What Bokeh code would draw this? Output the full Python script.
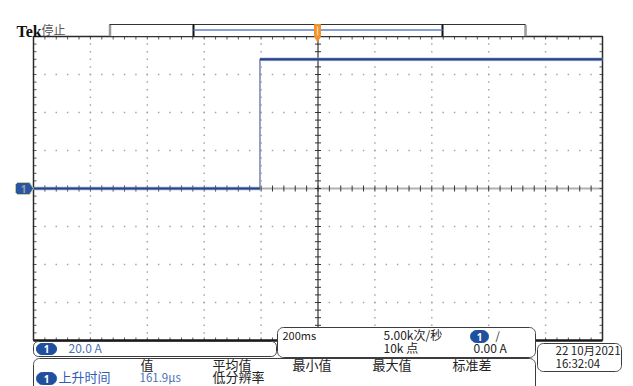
import numpy as np
from bokeh.plotting import figure
from bokeh.models import Range1d
from bokeh.core.properties import value
from bokeh.embed import file_html
from bokeh.resources import INLINE

W, H = 633, 386

# Acquisition settings (horizontal: ms, vertical: A)
time_per_div_ms = 200
amps_per_div = 20
n_div_x = 10
n_div_y = 8
minor_per_div = 5

# Channel 1 current trace: step from 0 A to 68 A
trace_time_ms = [-1000, -204, -204, 1000]
trace_current_a = [0.0, 0.0, 68.0, 68.0]

# Readouts
status_label = "停止"
ch_scale_label = "20.0 A"
timebase_label = "200ms"
sample_rate_label = "5.00k次/秒"
record_length_label = "10k 点"
trigger_level_label = "0.00 A"
meas_headers = ["值", "平均值", "最小值", "最大值", "标准差"]
meas_name = "上升时间"
meas_value = "161.9µs"
meas_note = "低分辨率"
date_label = "22 10月2021"
clock_label = "16:32:04"

# Screen geometry of the graticule
GX0, GX1, GY0, GY1 = 33.0, 602.0, 36.0, 340.0
CX, CY = (GX0 + GX1) / 2, (GY0 + GY1) / 2
PX_DIV_X = (GX1 - GX0) / n_div_x
PX_DIV_Y = (GY1 - GY0) / n_div_y


def tx(px):
    return (np.asarray(px, dtype=float) - CX) / PX_DIV_X * time_per_div_ms


def ay(py):
    return (CY - np.asarray(py, dtype=float)) / PX_DIV_Y * amps_per_div


def dx(npx):
    return npx / PX_DIV_X * time_per_div_ms


def dy(npx):
    return npx / PX_DIV_Y * amps_per_div


def rrect(x0, y0, x1, y1, r, n=10):
    """Rounded rectangle outline in screen pixels."""
    xs, ys = [], []
    corners = [(x1 - r, y0 + r, -90, 0), (x1 - r, y1 - r, 0, 90),
               (x0 + r, y1 - r, 90, 180), (x0 + r, y0 + r, 180, 270)]
    for cx, cy, a0, a1 in corners:
        a = np.radians(np.linspace(a0, a1, n))
        xs.extend(cx + r * np.cos(a))
        ys.extend(cy + r * np.sin(a))
    return tx(xs), ay(ys)


p = figure(width=W, height=H, x_range=Range1d(float(tx(0)), float(tx(W))),
           y_range=Range1d(float(ay(H)), float(ay(0))),
           x_axis_type=None, y_axis_type=None, min_border=0,
           toolbar_location=None, output_backend="svg",
           outline_line_color=None, background_fill_color="white",
           border_fill_color="white")

half_t = n_div_x / 2 * time_per_div_ms
half_a = n_div_y / 2 * amps_per_div
minor_t = time_per_div_ms / minor_per_div
minor_a = amps_per_div / minor_per_div
major_t = np.arange(-half_t, half_t + 1, time_per_div_ms)
major_a = np.arange(-half_a, half_a + 1, amps_per_div)
minor_ts = np.arange(-half_t, half_t + 1e-6, minor_t)
minor_as = np.arange(-half_a, half_a + 1e-6, minor_a)

# Dotted graticule lines
gx, gy = [], []
for t in major_t[1:-1]:
    if t == 0:
        continue
    gx.extend([t] * len(minor_as))
    gy.extend(minor_as)
for a in major_a[1:-1]:
    if a == 0:
        continue
    gx.extend(minor_ts)
    gy.extend([a] * len(minor_ts))
p.scatter(gx, gy, marker="square", size=1.5, fill_color="#a6a6a6",
          line_color=None)

# Center cross
p.segment(x0=[-half_t], y0=[0], x1=[half_t], y1=[0], line_color="#b0b0b0",
          line_width=2)
p.segment(x0=[0], y0=[-half_a], x1=[0], y1=[half_a], line_color="#333333",
          line_width=1.2)
p.segment(x0=[-dx(3)] * len(minor_as), y0=minor_as,
          x1=[dx(3)] * len(minor_as), y1=minor_as, line_color="#333333",
          line_width=1)
p.segment(x0=minor_ts, y0=[-dy(3)] * len(minor_ts), x1=minor_ts,
          y1=[dy(3)] * len(minor_ts), line_color="#333333", line_width=1)

# Edge ticks
p.segment(x0=[-half_t] * len(minor_as), y0=minor_as,
          x1=[-half_t + dx(3)] * len(minor_as), y1=minor_as,
          line_color="#555555", line_width=1)
p.segment(x0=[half_t] * len(minor_as), y0=minor_as,
          x1=[half_t - dx(3)] * len(minor_as), y1=minor_as,
          line_color="#555555", line_width=1)
p.segment(x0=minor_ts, y0=[half_a] * len(minor_ts), x1=minor_ts,
          y1=[half_a - dy(3)] * len(minor_ts), line_color="#555555",
          line_width=1)
p.segment(x0=minor_ts, y0=[-half_a] * len(minor_ts), x1=minor_ts,
          y1=[-half_a + dy(3)] * len(minor_ts), line_color="#555555",
          line_width=1)

# Graticule frame
p.line([-half_t, -half_t, half_t, half_t], [-half_a, half_a, half_a, -half_a],
       line_color="#2a2a2a", line_width=1.5)
p.segment(x0=[-half_t], y0=[-half_a], x1=[half_t], y1=[-half_a],
          line_color="#1a1a1a", line_width=2.5)

# Channel 1 trace: thin edges, heavier flat runs
p.line(trace_time_ms, trace_current_a, line_color="#7184b2", line_width=1.5)
fx0, fy0, fx1, fy1 = [], [], [], []
for i in range(len(trace_time_ms) - 1):
    if trace_current_a[i] == trace_current_a[i + 1]:
        fx0.append(trace_time_ms[i]); fy0.append(trace_current_a[i])
        fx1.append(trace_time_ms[i + 1]); fy1.append(trace_current_a[i + 1])
p.segment(x0=fx0, y0=fy0, x1=fx1, y1=fy1, line_color="#9aaad0",
          line_width=4, line_alpha=0.5)
p.segment(x0=fx0, y0=fy0, x1=fx1, y1=fy1, line_color="#24418a",
          line_width=2.2)

# Channel 1 ground marker at the left edge
mx = [17, 29, 33, 29, 17, 15, 15]
my = [182, 182, 188, 194, 194, 192, 184]
p.patch(tx(mx), ay(my), fill_color="#2a55a3", line_color="#c8cf9a",
        line_width=1)
p.text(tx([23]), ay([188]), text=["1"], text_font=value("Noto Sans"),
       text_font_size="10px", text_color="#9aa0a8", text_align="center",
       text_baseline="middle", text_font_style="bold")

# Record view bar
bx, by = rrect(109, 24, 525, 36, 0.1, n=2)
p.patch(bx, by, fill_color="white", line_color="#333333", line_width=1)
p.segment(x0=tx([109.5, 525]), y0=ay([24.5, 24.5]), x1=tx([109.5, 525]),
          y1=ay([35.5, 35.5]), line_color="#9a9a9a", line_width=2.5)
p.segment(x0=tx([193, 442]), y0=ay([24, 24]), x1=tx([193, 442]),
          y1=ay([36, 36]), line_color="#111111", line_width=2)
p.segment(x0=tx([193]), y0=ay([29.5]), x1=tx([442]), y1=ay([29.5]),
          line_color="#5c7fc6", line_width=1.5)

# Trigger position marker
ox = [314, 320, 320, 317, 314]
oy = [24, 24, 36, 41, 36]
p.patch(tx(ox), ay(oy), fill_color="#f3922a", line_color="#f3922a",
        line_width=1)
p.segment(x0=tx([317]), y0=ay([26]), x1=tx([317]), y1=ay([35]),
          line_color="#fbd3a0", line_width=1.5)

# Readout panels
for (x0, y0, x1, y1, r) in [(33, 341, 276, 356, 5), (277, 327, 535, 357, 6),
                            (33, 358, 535, 396, 6), (537, 343, 621, 371, 6)]:
    xs, ys = rrect(x0, y0, x1, y1, r)
    p.patch(xs, ys, fill_color="white", line_color="#3c3c3c", line_width=1)

# Channel badges
for (x0, y0, x1, y1) in [(36, 343, 56, 354), (470, 330, 488, 342),
                         (36, 372, 56, 384)]:
    xs, ys = rrect(x0, y0, x1, y1, (y1 - y0) / 2)
    p.patch(xs, ys, fill_color="#1f4f9f", line_color="#1f4f9f")
    p.text(tx([(x0 + x1) / 2]), ay([(y0 + y1) / 2]), text=["1"],
           text_font=value("Noto Sans"), text_font_size="10px",
           text_color="white", text_align="center", text_baseline="middle",
           text_font_style="bold")

CJK = value("Noto Sans CJK SC")
CJK_SHIFT = 2.0  # this face sits low when centred on its middle


def label(px, py, s, size, color="#222222", font=CJK, style="normal",
          shift=CJK_SHIFT):
    p.text(tx([px]), ay([py - shift]), text=[s], text_font=font,
           text_font_size=size, text_color=color, text_align="left",
           text_baseline="middle", text_font_style=style)


label(16, 31, "Tek", "16px", "#111111", value("Liberation Serif"), "bold",
      shift=0.5)
label(41, 31, status_label, "12px", "#555555")
label(68, 348.5, ch_scale_label, "12px", "#4a70bb")
label(282, 336, timebase_label, "11px")
label(383, 336, sample_rate_label, "12px")
label(383, 349, record_length_label, "12px")
label(495, 336, "/", "11px")
label(473, 349, trigger_level_label, "12px")
for hx, h in zip([140, 212, 292, 372, 452], meas_headers):
    label(hx, 365.5, h, "13px")
label(58, 378, meas_name, "13px", "#2f5cb3")
label(139, 378, meas_value, "11.5px", "#4a70bb")
label(212, 378, meas_note, "13px")
label(555, 351, date_label, "11.5px")
label(555, 364, clock_label, "11.5px")

html = file_html(p, INLINE)
open("out.html", "w").write(html)
